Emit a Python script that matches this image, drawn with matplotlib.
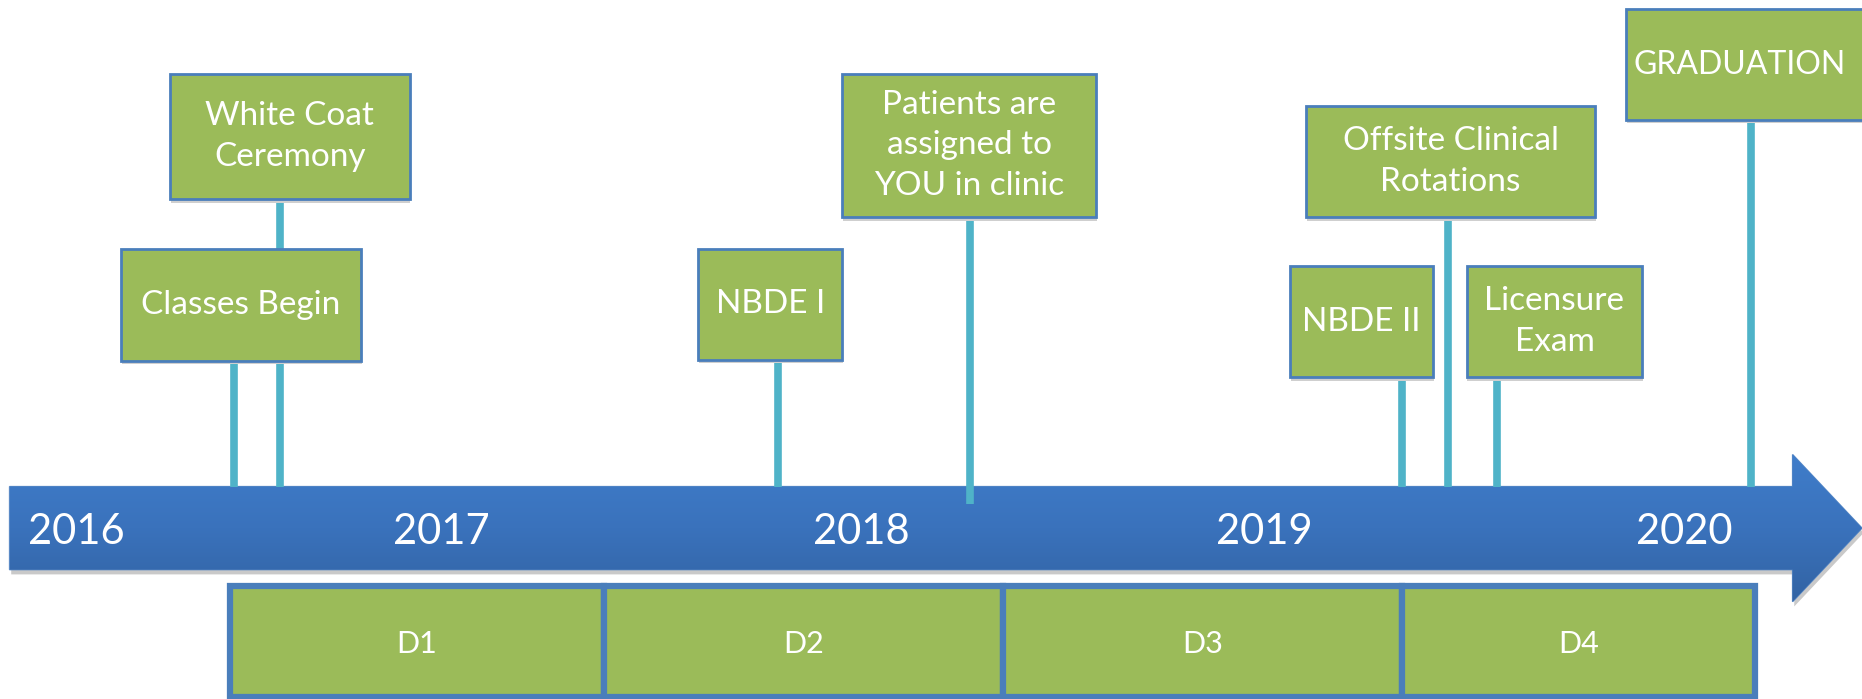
import matplotlib
matplotlib.use('Agg')
import matplotlib.pyplot as plt
import numpy as np
from matplotlib.patches import Rectangle, Polygon

plt.rcParams['font.family'] = ['Lato', 'DejaVu Sans']

# timeline data
years = [2016, 2017, 2018, 2019, 2020]
year_pos = [2016.12, 2017.0, 2018.01, 2018.98, 2019.99]

events = ["Classes Begin", "White Coat\nCeremony", "NBDE I",
          "Patients are\nassigned to\nYOU in clinic", "NBDE II",
          "Offsite Clinical\nRotations", "Licensure\nExam", "GRADUATION"]
event_dates = [2016.50, 2016.61, 2017.81, 2018.27, 2019.31, 2019.42, 2019.54, 2020.15]

phases = ["D1", "D2", "D3", "D4"]
phase_edges = [2016.49, 2017.39, 2018.35, 2019.31, 2020.16]

# layout of the label boxes (center in years, width in years, top/bottom in layout units)
box_cx = [2016.517, 2016.634, 2017.79, 2018.269, 2019.213, 2019.427, 2019.677, 2020.17]
box_w = [0.577, 0.577, 0.346, 0.611, 0.346, 0.694, 0.423, 0.64]
box_top = [210, 62, 210, 62, 224, 89, 224, 8]
box_bot = [304, 168, 303, 183, 318, 183, 318, 101]
stem_end = [410, 410, 410, 425, 410, 410, 410, 410]
text_cx = [2016.517, 2016.634, 2017.79, 2018.269, 2019.213, 2019.427, 2019.677, 2020.123]
text_size = [24, 24, 24, 24, 24, 24, 24, 23]

GREEN = '#9BBB59'
BORDER = '#4A7EBB'
STEM = '#4FB3C8'

fig = plt.figure(figsize=(18.62, 6.99), dpi=100)
ax = fig.add_axes([0, 0, 1, 1])
ax.set_xlim(2015.937, 2020.417)
ax.set_ylim(589, 0)
ax.axis('off')

# arrow
x0, x_body, x_tip = 2015.96, 2020.25, 2020.417
arrow_pts = [(x0, 410), (x_body, 410), (x_body, 383), (x_tip, 445),
             (x_body, 507), (x_body, 480), (x0, 480)]
shadow = Polygon([(x + 0.004, y + 4) for x, y in arrow_pts], closed=True,
                 facecolor='#C9C9C9', edgecolor='none', zorder=1)
ax.add_patch(shadow)
arrow = Polygon(arrow_pts, closed=True, facecolor='none', edgecolor='#5A8AC6',
                lw=1, zorder=2)
ax.add_patch(arrow)
grad = np.linspace(0, 1, 256).reshape(-1, 1)
cmap = matplotlib.colors.LinearSegmentedColormap.from_list('b', ['#3F7DCA', '#3A72BC', '#3263A3'])
im = ax.imshow(grad, cmap=cmap, aspect='auto', extent=(x0, x_tip, 507, 383), zorder=2)
im.set_clip_path(arrow)

for yr, xp in zip(years, year_pos):
    ax.text(xp, 448, str(yr), color='white', fontsize=30, ha='center', va='center', zorder=5)

# stems
for i in range(len(events)):
    ax.plot([event_dates[i], event_dates[i]], [box_bot[i], stem_end[i]],
            color=STEM, lw=5.5, solid_capstyle='butt', zorder=3)

# event boxes
for i, lab in enumerate(events):
    left = box_cx[i] - box_w[i] / 2
    h = box_bot[i] - box_top[i]
    ax.add_patch(Rectangle((left + 0.002, box_top[i] + 3), box_w[i], h,
                           facecolor='#CFCFCF', edgecolor='none', zorder=4))
    ax.add_patch(Rectangle((left, box_top[i]), box_w[i], h, facecolor=GREEN,
                           edgecolor=BORDER, lw=2, zorder=4))
    ax.text(text_cx[i], (box_top[i] + box_bot[i]) / 2, lab, color='white',
            fontsize=text_size[i], ha='center', va='center', linespacing=1.45, zorder=5)

# phase boxes
for i, ph in enumerate(phases):
    a, b = phase_edges[i], phase_edges[i + 1]
    ax.add_patch(Rectangle((a, 494), b - a, 93, facecolor=GREEN,
                           edgecolor=BORDER, lw=4.5, zorder=4))
    ax.text((a + b) / 2, 543, ph, color='white', fontsize=22,
            ha='center', va='center', zorder=5)

fig.savefig('out.png', dpi=100)
